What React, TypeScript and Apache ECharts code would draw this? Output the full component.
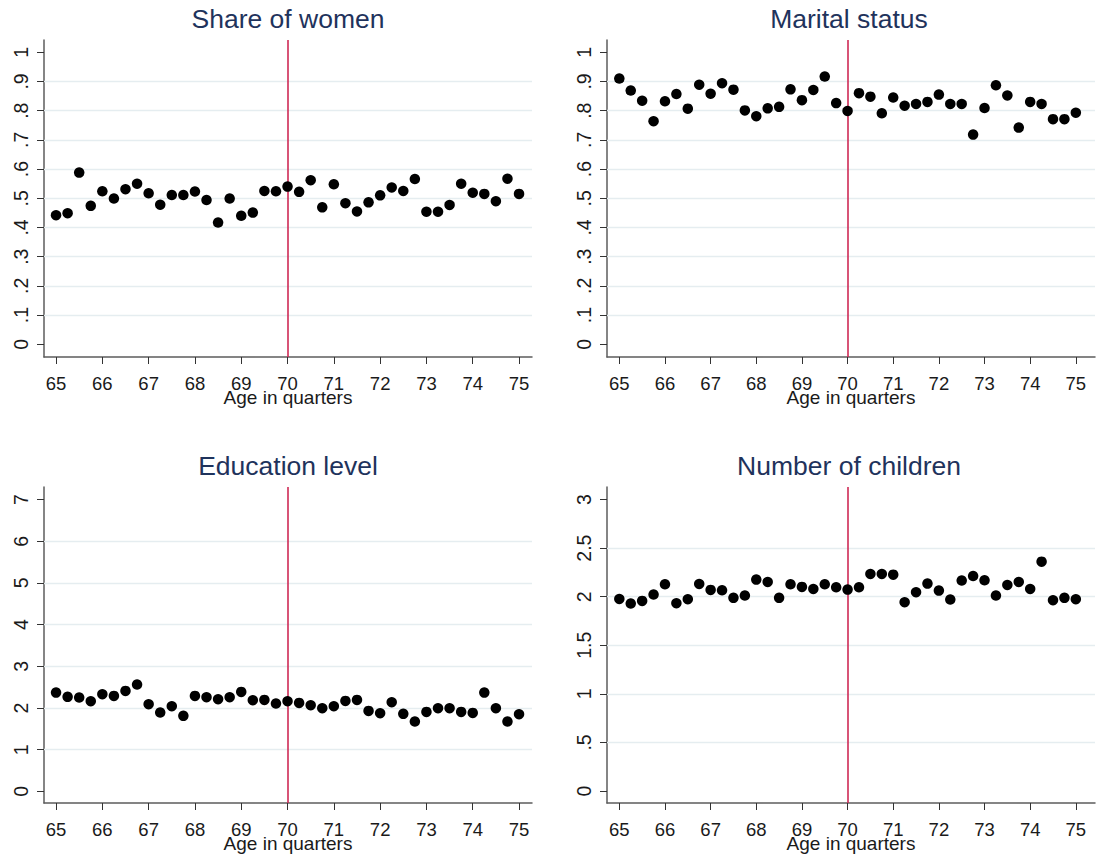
import React, { useEffect, useRef } from "react";
import * as echarts from "echarts";

// Age in quarters (x values shared by all four panels)
const ages = [
  65, 65.25, 65.5, 65.75, 66, 66.25, 66.5, 66.75, 67, 67.25, 67.5, 67.75,
  68, 68.25, 68.5, 68.75, 69, 69.25, 69.5, 69.75, 70, 70.25, 70.5, 70.75,
  71, 71.25, 71.5, 71.75, 72, 72.25, 72.5, 72.75, 73, 73.25, 73.5, 73.75,
  74, 74.25, 74.5, 74.75, 75,
];

const shareWomen = [
  0.442, 0.449, 0.588, 0.474, 0.524, 0.499, 0.531, 0.55, 0.517, 0.478, 0.511,
  0.511, 0.523, 0.494, 0.417, 0.499, 0.44, 0.451, 0.525, 0.524, 0.54, 0.522,
  0.562, 0.469, 0.548, 0.483, 0.455, 0.486, 0.51, 0.537, 0.525, 0.566, 0.454,
  0.454, 0.477, 0.55, 0.519, 0.515, 0.49, 0.567, 0.515,
];

const maritalStatus = [
  0.91, 0.869, 0.834, 0.764, 0.832, 0.857, 0.807, 0.889, 0.858, 0.894, 0.872,
  0.801, 0.781, 0.808, 0.813, 0.873, 0.836, 0.871, 0.917, 0.826, 0.799, 0.86,
  0.848, 0.791, 0.845, 0.817, 0.823, 0.83, 0.855, 0.823, 0.823, 0.718, 0.809,
  0.887, 0.852, 0.742, 0.83, 0.823, 0.771, 0.771, 0.793,
];

const educationLevel = [
  2.37, 2.267, 2.251, 2.163, 2.33, 2.29, 2.41, 2.562, 2.091, 1.891, 2.043,
  1.812, 2.29, 2.259, 2.211, 2.259, 2.386, 2.187, 2.195, 2.107, 2.163, 2.123,
  2.067, 1.995, 2.043, 2.171, 2.195, 1.931, 1.875, 2.139, 1.86, 1.676, 1.907,
  1.995, 1.995, 1.907, 1.883, 2.37, 1.995, 1.676, 1.852,
];

const numChildren = [
  1.977, 1.93, 1.957, 2.022, 2.128, 1.933, 1.974, 2.131, 2.07, 2.066, 1.988,
  2.012, 2.176, 2.152, 1.988, 2.128, 2.101, 2.08, 2.128, 2.097, 2.073, 2.097,
  2.234, 2.234, 2.227, 1.943, 2.046, 2.135, 2.063, 1.971, 2.166, 2.213, 2.169,
  2.012, 2.121, 2.152, 2.08, 2.361, 1.964, 1.988, 1.974,
];

const panelTitles = [
  "Share of women",
  "Marital status",
  "Education level",
  "Number of children",
];

const xTicks = [65, 66, 67, 68, 69, 70, 71, 72, 73, 74, 75];
const shareTicks = [0, 0.1, 0.2, 0.3, 0.4, 0.5, 0.6, 0.7, 0.8, 0.9, 1];
const maritalTicks = [0, 0.1, 0.2, 0.3, 0.4, 0.5, 0.6, 0.7, 0.8, 0.9, 1];
const educationTicks = [0, 1, 2, 3, 4, 5, 6, 7];
const childrenTicks = [0, 0.5, 1, 1.5, 2, 2.5, 3];
const cutoffAge = 70;
const xAxisTitle = "Age in quarters";

const FONT = "'Liberation Sans', Arial, sans-serif";
const TITLE_COLOR = "#1f335c";
const GRID_COLOR = "#e5edf0";
const CUTOFF_COLOR = "#cf2a55";
const AXIS_COLOR = "#5c5c5c";

// Stata-style labels: ".5" instead of "0.5"
const fmt = (v: number) => {
  const s = String(Number(Number(v).toFixed(3)));
  return s.startsWith("0.") ? s.slice(1) : s;
};

type Panel = {
  title: string;
  values: number[];
  ticks: number[];
  yMin: number;
  yMax: number;
  left: number;
  top: number;
  width: number;
  height: number;
  xMin: number;
  xMax: number;
};

const panels: Panel[] = [
  {
    title: panelTitles[0], values: shareWomen, ticks: shareTicks,
    yMin: -0.0435, yMax: 1.042,
    left: 44, top: 40, width: 488, height: 317, xMin: 64.74, xMax: 75.28,
  },
  {
    title: panelTitles[1], values: maritalStatus, ticks: maritalTicks,
    yMin: -0.0435, yMax: 1.042,
    left: 607, top: 40, width: 488, height: 317, xMin: 64.73, xMax: 75.42,
  },
  {
    title: panelTitles[2], values: educationLevel, ticks: educationTicks,
    yMin: -0.278, yMax: 7.3,
    left: 44, top: 487, width: 488, height: 316, xMin: 64.74, xMax: 75.28,
  },
  {
    title: panelTitles[3], values: numChildren, ticks: childrenTicks,
    yMin: -0.123, yMax: 3.129,
    left: 607, top: 487, width: 488, height: 316, xMin: 64.73, xMax: 75.42,
  },
];

export default function App() {
  const ref = useRef<HTMLDivElement>(null);

  useEffect(() => {
    if (!ref.current) return;
    const chart = echarts.init(ref.current, undefined, { renderer: "svg" });

    const grid = panels.map((p) => ({
      left: p.left,
      top: p.top,
      width: p.width,
      height: p.height,
      containLabel: false,
      outerBoundsMode: "none",
    }));

    const xAxis = panels.map((p, i) => ({
      type: "value",
      gridIndex: i,
      min: p.xMin,
      max: p.xMax,
      name: xAxisTitle,
      nameLocation: "middle",
      nameGap: 31,
      nameMoveOverlap: false,
      nameTextStyle: { fontFamily: FONT, fontSize: 19, color: "#1a1a1a" },
      axisLine: { show: true, onZero: false, lineStyle: { color: AXIS_COLOR, width: 1.5 } },
      axisTick: { show: true, length: 7, customValues: xTicks, lineStyle: { color: "#333", width: 1 } },
      axisLabel: {
        customValues: xTicks,
        margin: 17,
        fontFamily: FONT,
        fontSize: 18.5,
        color: "#1a1a1a",
        formatter: (v: number) => fmt(v),
      },
      splitLine: { show: false },
    }));

    const yAxis = panels.map((p, i) => ({
      type: "value",
      gridIndex: i,
      min: p.yMin,
      max: p.yMax,
      axisLine: { show: true, onZero: false, lineStyle: { color: AXIS_COLOR, width: 1.5 } },
      axisTick: { show: true, length: 7, customValues: p.ticks, lineStyle: { color: "#333", width: 1 } },
      axisLabel: {
        customValues: p.ticks,
        rotate: 90,
        margin: 13,
        fontFamily: FONT,
        fontSize: 19.5,
        color: "#1a1a1a",
        formatter: (v: number) => fmt(v),
      },
      splitLine: { show: false },
    }));

    const series: any[] = [];
    panels.forEach((p, i) => {
      const inner = p.ticks.slice(1, -1);
      // light horizontal gridlines at the interior ticks
      series.push({
        type: "scatter",
        xAxisIndex: i,
        yAxisIndex: i,
        data: [],
        z: 1,
        silent: true,
        markLine: {
          z: 1,
          silent: true,
          symbol: "none",
          label: { show: false },
          lineStyle: { color: GRID_COLOR, width: 1.3, type: "solid" },
          data: inner.map((v) => ({ yAxis: v })),
        },
      });
      // cutoff at age 70
      series.push({
        type: "scatter",
        xAxisIndex: i,
        yAxisIndex: i,
        data: [],
        z: 2,
        silent: true,
        markLine: {
          z: 2,
          silent: true,
          symbol: "none",
          label: { show: false },
          lineStyle: { color: CUTOFF_COLOR, width: 1.6, type: "solid" },
          data: [{ xAxis: cutoffAge }],
        },
      });
      series.push({
        type: "scatter",
        name: p.title,
        xAxisIndex: i,
        yAxisIndex: i,
        z: 6,
        symbol: "circle",
        symbolSize: 10.5,
        itemStyle: { color: "#000", opacity: 1 },
        data: ages.map((a, k) => [a, p.values[k]]),
      });
    });

    const titleGraphics = panels.map((p) => ({
      type: "text",
      x: p.left + p.width / 2 - (p.left > 100 ? 2 : 0),
      y: p.top - 21,
      style: {
        text: p.title,
        font: `26.5px ${FONT}`,
        fill: TITLE_COLOR,
        textAlign: "center",
        textVerticalAlign: "middle",
      },
    }));

    chart.setOption({
      animation: false,
      backgroundColor: "#ffffff",
      grid,
      xAxis,
      yAxis,
      series,
      graphic: titleGraphics,
    });

    return () => chart.dispose();
  }, []);

  return (
    <div
      ref={ref}
      style={{ position: "absolute", left: 0, top: 0, width: 1099, height: 861, background: "#fff" }}
    />
  );
}
